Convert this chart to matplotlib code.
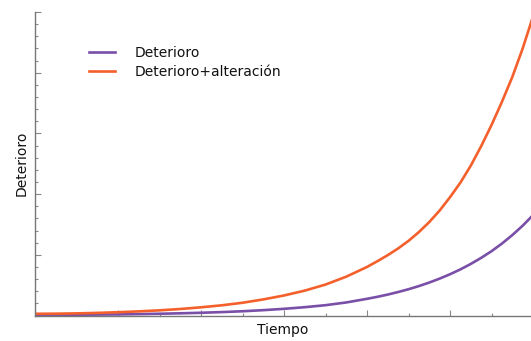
import numpy as np
import matplotlib
matplotlib.use("Agg")
import matplotlib.pyplot as plt
from matplotlib.ticker import MultipleLocator, NullFormatter

# values
tiempo = [0, 0.5, 1, 1.5, 2, 2.5, 3, 3.5, 4, 4.5, 5, 5.5, 6, 6.5, 7, 7.5,
          8, 8.25, 8.5, 8.75, 9, 9.25, 9.5, 9.75, 10, 10.25, 10.5, 10.75,
          11, 11.25, 11.5, 11.75, 12]
deterioro = [0.010, 0.011, 0.012, 0.015, 0.018, 0.023, 0.029, 0.036, 0.045,
             0.056, 0.070, 0.088, 0.110, 0.137, 0.170, 0.215,
             0.275, 0.308, 0.345, 0.387, 0.433, 0.485, 0.543, 0.608, 0.68,
             0.76, 0.85, 0.95, 1.06, 1.185, 1.325, 1.48, 1.655]
deterioro_alt = [0.028, 0.030, 0.035, 0.043, 0.054, 0.068, 0.085, 0.107, 0.135,
                 0.168, 0.21, 0.265, 0.33, 0.41, 0.51, 0.64,
                 0.80, 0.895, 0.995, 1.105, 1.23, 1.375, 1.54, 1.73, 1.95,
                 2.19, 2.47, 2.79, 3.14, 3.52, 3.93, 4.40, 4.93]

series = [("Deterioro", deterioro, "#7a4fa8"),
          ("Deterioro+alteración", deterioro_alt, "#f4602c")]

fig = plt.figure(figsize=(5.31, 3.41), dpi=100)
ax = fig.add_axes([35 / 531, 25.5 / 341, 1 - 35 / 531, 303.5 / 341])

for name, vals, col in series:
    ax.plot(tiempo, vals, color=col, lw=1.9, label=name, solid_joinstyle="round")

ax.set_xlim(0, 11.95)
ax.set_ylim(0, 5.0)

for s in ["top", "right"]:
    ax.spines[s].set_visible(False)
for s in ["left", "bottom"]:
    ax.spines[s].set_color("#777777")
    ax.spines[s].set_linewidth(1.0)

ax.xaxis.set_major_locator(MultipleLocator(2))
ax.xaxis.set_minor_locator(MultipleLocator(1))
ax.yaxis.set_major_locator(MultipleLocator(1))
ax.yaxis.set_minor_locator(MultipleLocator(0.2))
ax.xaxis.set_major_formatter(NullFormatter())
ax.yaxis.set_major_formatter(NullFormatter())
ax.tick_params(which="both", direction="in", color="#888888", width=0.8)
ax.tick_params(which="major", length=4)
ax.tick_params(which="minor", length=2.5)

ax.set_xlabel("Tiempo", fontsize=10, color="#111111", labelpad=2)
ax.set_ylabel("Deterioro", fontsize=10, color="#111111", labelpad=1)

leg = ax.legend(loc="upper left", bbox_to_anchor=(89 / 531, 1 - 46 / 341),
                bbox_transform=fig.transFigure, frameon=False, fontsize=10,
                handlelength=1.9, handletextpad=1.35, labelspacing=0.35,
                borderpad=0, borderaxespad=0)
for t in leg.get_texts():
    t.set_color("#111111")

fig.savefig("out.png", dpi=100)
